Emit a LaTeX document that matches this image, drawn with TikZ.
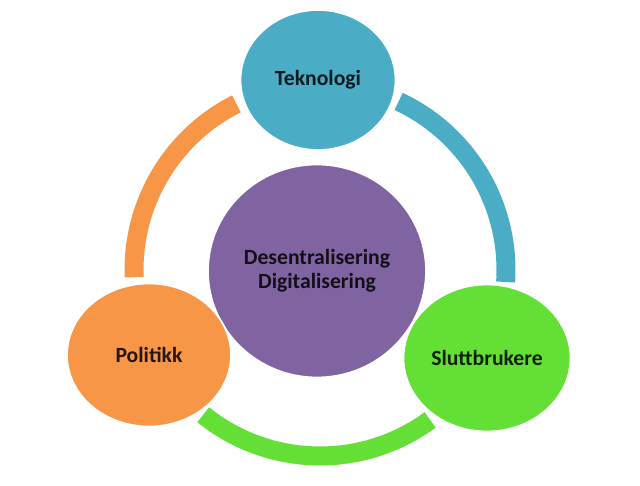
\documentclass[tikz,border=0pt]{standalone}
\usepackage{fontspec}
\setmainfont{Carlito}
\usetikzlibrary{shapes.geometric}
\definecolor{teknoblue}{HTML}{4BACC6}
\definecolor{polorange}{HTML}{F79646}
\definecolor{sluttgreen}{HTML}{63DF36}
\definecolor{midpurple}{HTML}{8064A2}
\tikzset{
  blob/.style={ellipse, draw=white, line width=1.5pt, inner sep=0pt, align=center,
    font=\bfseries\fontsize{18.5}{20.5}\selectfont},
  band/.style={line width=0.57cm, line cap=butt},
}
\begin{document}
\begin{tikzpicture}[x=0.03cm, y=-0.03cm]
  \useasboundingbox (0,0) rectangle (640,486);
  \coordinate (ring) at (320,270);
  % the ring, in three pieces
  \draw[band, polorange] ([shift={(177.8:186)}]ring) arc[start angle=177.8, end angle=243.3, radius=186];
  \draw[band, teknoblue] ([shift={(295:186)}]ring) arc[start angle=295, end angle=363.7, radius=186];
  \draw[band, sluttgreen] ([shift={(53.7:186)}]ring) arc[start angle=53.7, end angle=128.9, radius=186];
  % circles
  \node[blob, fill=midpurple, text=black!85!midpurple, minimum width=6.54cm, minimum height=6.39cm] (mid) at (317,271) {Desentralisering\\Digitalisering};
  \node[blob, fill=teknoblue, text=black!85!teknoblue, minimum width=4.65cm, minimum height=4.2cm] (tek) at (318,80) {Teknologi};
  \node[blob, fill=polorange, text=black!85!polorange, minimum width=4.92cm, minimum height=4.29cm] (pol) at (149,355) {Politikk};
  \node[blob, fill=sluttgreen, text=black!85!sluttgreen, minimum width=5.01cm, minimum height=4.41cm] (slutt) at (487,358) {Sluttbrukere};
\end{tikzpicture}
\end{document}
